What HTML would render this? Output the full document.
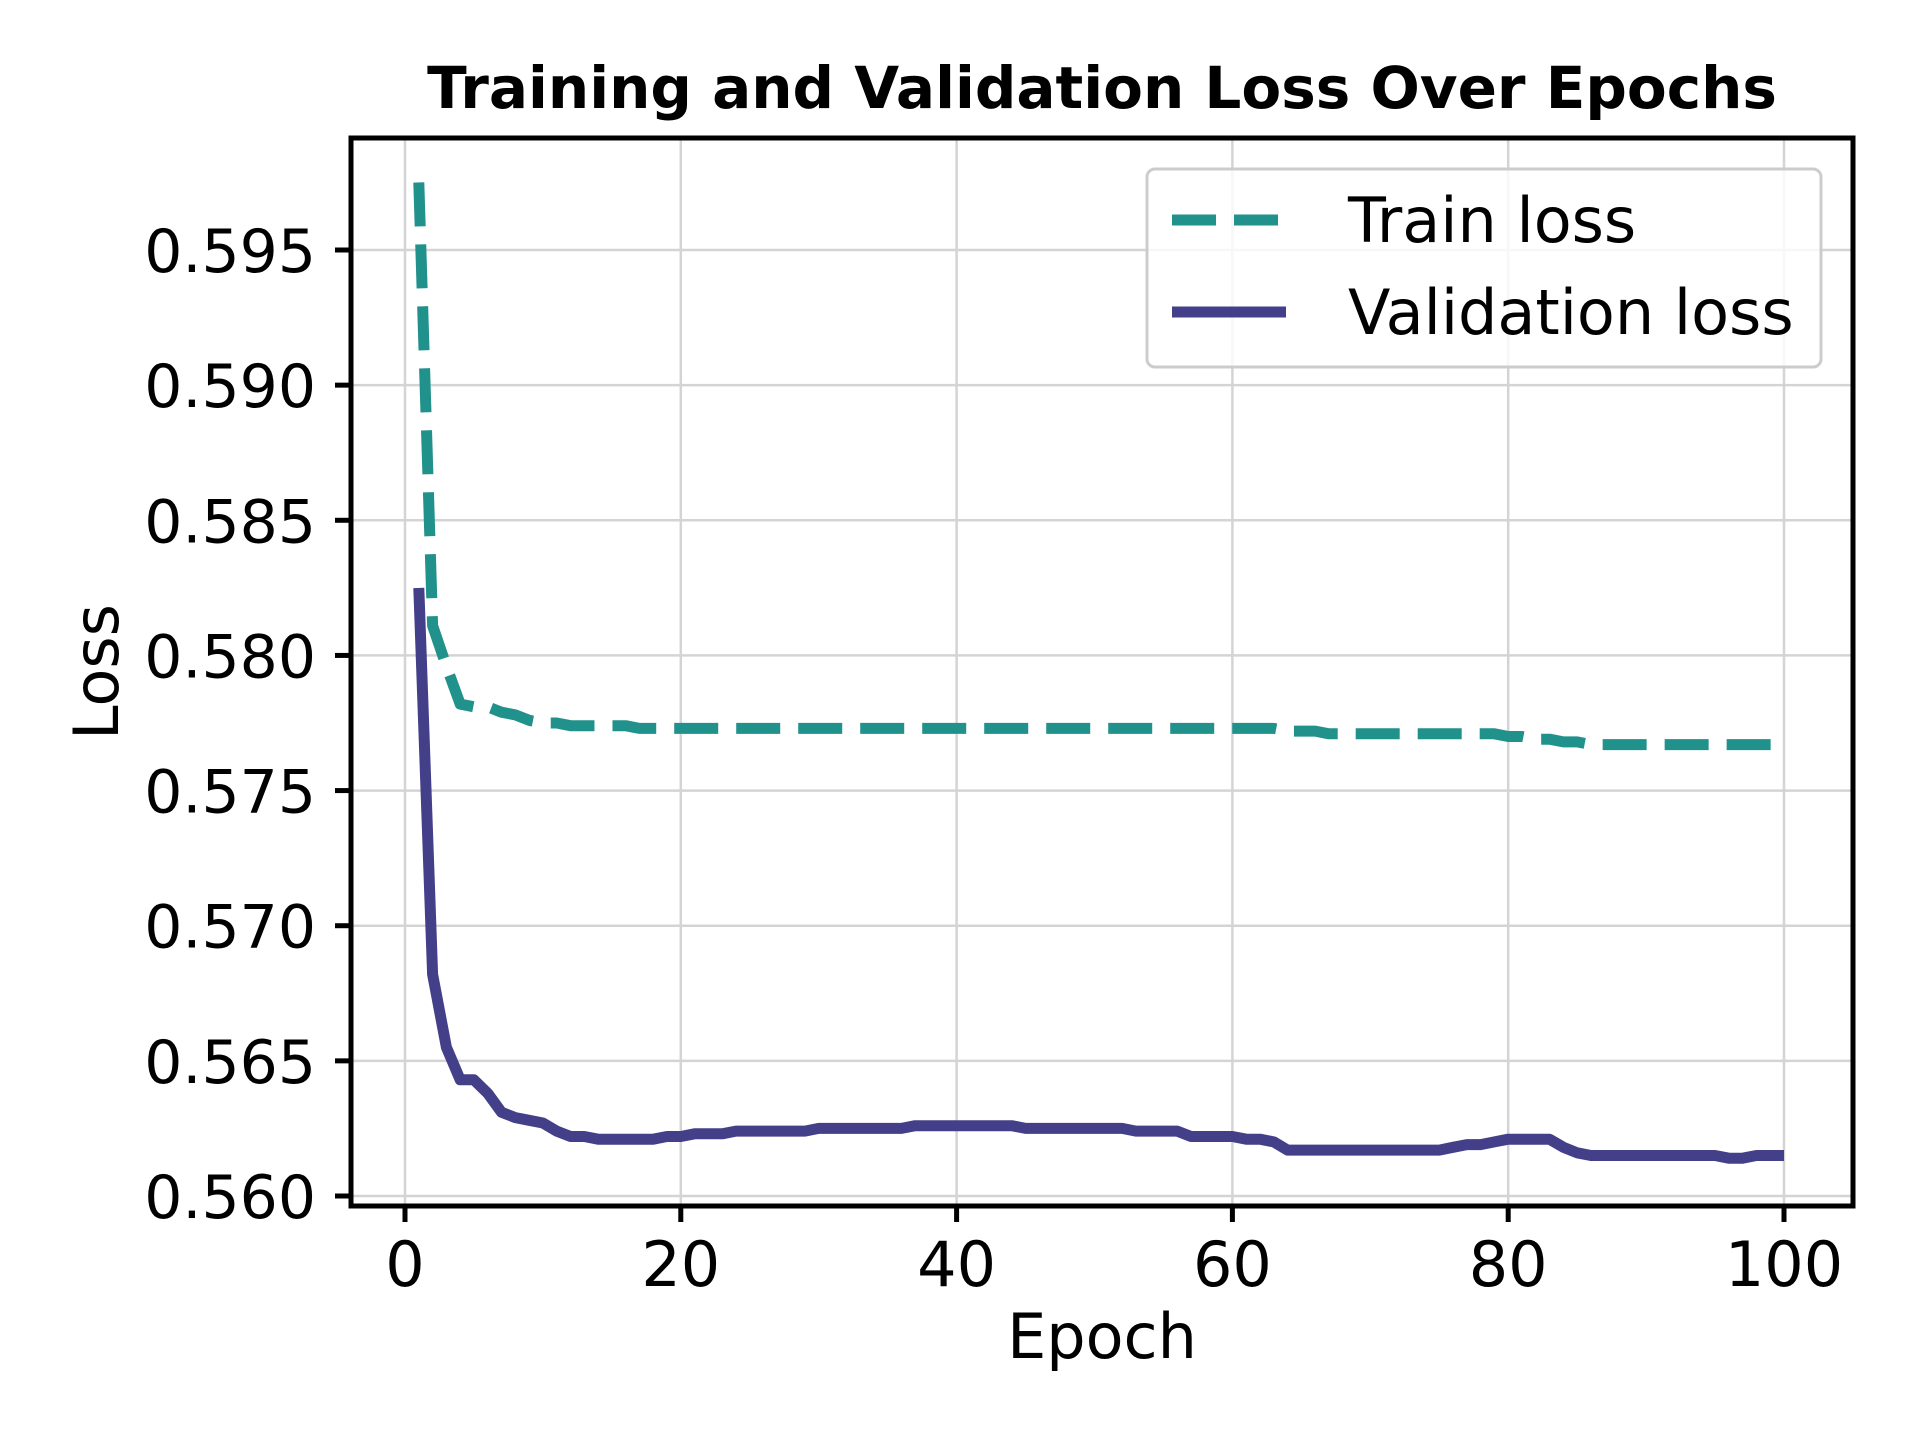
<!DOCTYPE html>
<html><head><meta charset="utf-8"><style>
html,body{margin:0;padding:0;background:#fff}
svg{display:block}
text{font-family:"DejaVu Sans","Liberation Sans",sans-serif;fill:#000}
</style></head><body>
<svg id="chart" width="1920" height="1440" viewBox="0 0 1920 1440" xmlns="http://www.w3.org/2000/svg">
<rect width="1920" height="1440" fill="#fff"/>
<text x="1102" y="108" font-size="58" font-weight="bold" text-anchor="middle">Training and Validation Loss Over Epochs</text>
<g id="grid"></g>
<g id="series"></g>
<rect x="351" y="138" width="1502" height="1068" fill="none" stroke="#000" stroke-width="5"/>
<g id="ticks"></g>
<text x="1102" y="1358" font-size="62" text-anchor="middle">Epoch</text>
<text x="0" y="0" font-size="62" text-anchor="middle" transform="translate(118,672) rotate(-90)">Loss</text>
<g>
<rect x="1147" y="169" width="674" height="198" rx="8" fill="#fff" fill-opacity="0.8" stroke="#ccc" stroke-width="3"/>
<line x1="1172" y1="220" x2="1286" y2="220" stroke="#21918c" stroke-width="11" stroke-dasharray="44 18"/>
<text x="1348" y="242" font-size="62">Train loss</text>
<line x1="1172" y1="312" x2="1286" y2="312" stroke="#443f89" stroke-width="11"/>
<text x="1348" y="334" font-size="62">Validation loss</text>
</g>
</svg>
<script>
const epochs = Array.from({length:100},(_,i)=>i+1);
const trainLoss = [0.5975,0.5811,0.5796,0.5782,0.5781,0.5781,0.5779,0.5778,0.5776,0.5775,
0.5775,0.5774,0.5774,0.5774,0.5774,0.5774,0.5773,0.5773,0.5773,0.5773,
0.5773,0.5773,0.5773,0.5773,0.5773,0.5773,0.5773,0.5773,0.5773,0.5773,
0.5773,0.5773,0.5773,0.5773,0.5773,0.5773,0.5773,0.5773,0.5773,0.5773,
0.5773,0.5773,0.5773,0.5773,0.5773,0.5773,0.5773,0.5773,0.5773,0.5773,
0.5773,0.5773,0.5773,0.5773,0.5773,0.5773,0.5773,0.5773,0.5773,0.5773,
0.5773,0.5773,0.5773,0.5772,0.5772,0.5772,0.5771,0.5771,0.5771,0.5771,
0.5771,0.5771,0.5771,0.5771,0.5771,0.5771,0.5771,0.5771,0.5771,0.5770,
0.5770,0.5769,0.5769,0.5768,0.5768,0.5767,0.5767,0.5767,0.5767,0.5767,
0.5767,0.5767,0.5767,0.5767,0.5767,0.5767,0.5767,0.5767,0.5767,0.5767];
const valLoss = [0.5825,0.5682,0.5655,0.5643,0.5643,0.5638,0.5631,0.5629,0.5628,0.5627,
0.5624,0.5622,0.5622,0.5621,0.5621,0.5621,0.5621,0.5621,0.5622,0.5622,
0.5623,0.5623,0.5623,0.5624,0.5624,0.5624,0.5624,0.5624,0.5624,0.5625,
0.5625,0.5625,0.5625,0.5625,0.5625,0.5625,0.5626,0.5626,0.5626,0.5626,
0.5626,0.5626,0.5626,0.5626,0.5625,0.5625,0.5625,0.5625,0.5625,0.5625,
0.5625,0.5625,0.5624,0.5624,0.5624,0.5624,0.5622,0.5622,0.5622,0.5622,
0.5621,0.5621,0.5620,0.5617,0.5617,0.5617,0.5617,0.5617,0.5617,0.5617,
0.5617,0.5617,0.5617,0.5617,0.5617,0.5618,0.5619,0.5619,0.5620,0.5621,
0.5621,0.5621,0.5621,0.5618,0.5616,0.5615,0.5615,0.5615,0.5615,0.5615,
0.5615,0.5615,0.5615,0.5615,0.5615,0.5614,0.5614,0.5615,0.5615,0.5615];
const xTicks = [0,20,40,60,80,100];
const yTicks = [0.560,0.565,0.570,0.575,0.580,0.585,0.590,0.595];
const yTickLabels = ["0.560","0.565","0.570","0.575","0.580","0.585","0.590","0.595"];

const NS="http://www.w3.org/2000/svg";
const X0=405, X1=1784, Y0=1196, Y1=250;
function xs(e){return X0+(e-0)/(100-0)*(X1-X0);}
function ys(v){return Y0+(v-0.560)/(0.595-0.560)*(Y1-Y0);}
function mk(tag,attrs,parent){const el=document.createElementNS(NS,tag);for(const k in attrs)el.setAttribute(k,attrs[k]);parent.appendChild(el);return el;}
const grid=document.getElementById('grid'), ticks=document.getElementById('ticks'), series=document.getElementById('series');
xTicks.forEach(t=>{
  const x=xs(t);
  const g=mk('line',{x1:x,x2:x,y1:138,y2:1206,stroke:'#d4d4d4','stroke-width':2.5},grid);
  
  
  const tk=mk('line',{x1:x,x2:x,y1:1206,y2:1222,stroke:'#000','stroke-width':5},ticks);
  
  
  const tx=mk('text',{x:x,y:1286,'font-size':62,'text-anchor':'middle'},ticks);
  tx.textContent=String(t);
  
  
});
yTicks.forEach((t,i)=>{
  const y=ys(t);
  const g=mk('line',{x1:351,x2:1853,y1:y,y2:y,stroke:'#d4d4d4','stroke-width':2.5},grid);
  
  
  const tk=mk('line',{x1:335,x2:351,y1:y,y2:y,stroke:'#000','stroke-width':5},ticks);
  
  
  const tx=mk('text',{x:316,y:y+22,'font-size':60,'text-anchor':'end'},ticks);
  tx.textContent=yTickLabels[i];
  
  
});
function path(vals){return vals.map((v,i)=>(i?'L':'M')+xs(epochs[i]).toFixed(1)+' '+ys(v).toFixed(1)).join(' ');}
const tr=mk('path',{d:path(trainLoss),fill:'none',stroke:'#21918c','stroke-width':11,'stroke-dasharray':'44 18','stroke-linejoin':'round'},series);


const vl=mk('path',{d:path(valLoss),fill:'none',stroke:'#443f89','stroke-width':11,'stroke-linejoin':'round'},series);


</script>
</body></html>
